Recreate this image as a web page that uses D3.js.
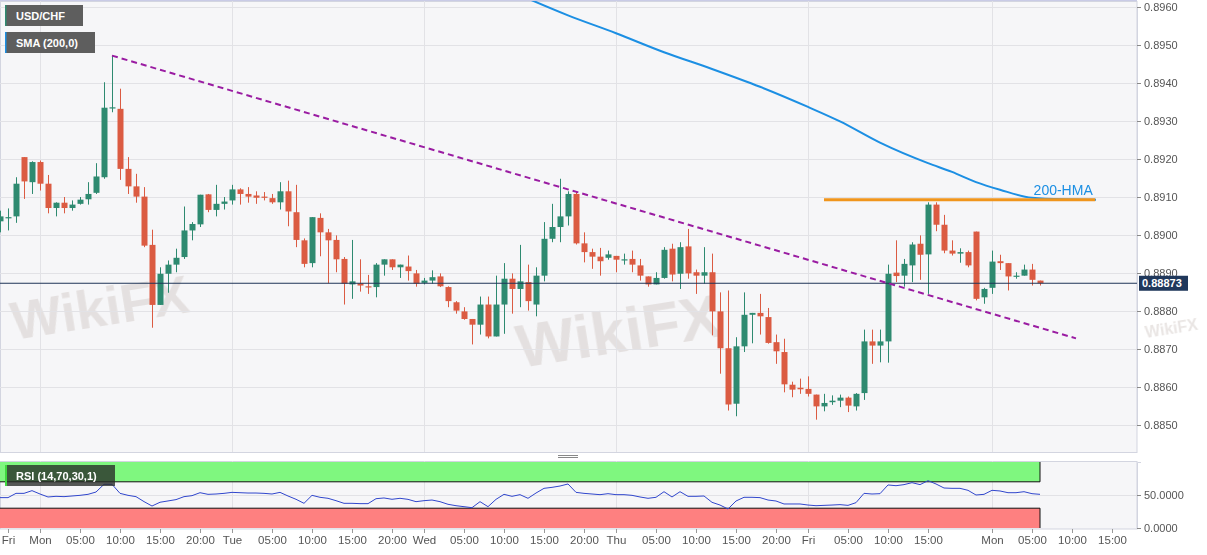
<!DOCTYPE html>
<html><head><meta charset="utf-8">
<script src="https://cdn.jsdelivr.net/npm/d3@7"></script>
<style>
body{margin:0;background:#fff;}
svg{display:block;font-family:"Liberation Sans",Arial,sans-serif;}
</style>
</head><body>
<svg id="c" width="1207" height="555"></svg>
<script>
// ---------- DATA ----------
const firstSlot = -5; // hourly slot of the first candle (Mon 00:00 = slot 0)
const opens = [0.89036,0.89046,0.89049,0.89205,0.89139,0.89192,0.89135,0.89071,0.89085,0.89071,0.89082,0.89094,0.89111,0.89152,0.89334,0.89332,0.89174,0.89128,0.89101,0.88974,0.88816,0.88898,0.88922,0.88942,0.89012,0.89028,0.89107,0.89066,0.89082,0.89091,0.89120,0.89108,0.89104,0.89101,0.89097,0.89086,0.89115,0.89060,0.88986,0.88926,0.89045,0.89007,0.88987,0.88937,0.88870,0.88873,0.88865,0.88863,0.88922,0.88936,0.88915,0.88917,0.88899,0.88874,0.88880,0.88891,0.88863,0.88823,0.88799,0.88779,0.88764,0.88817,0.88733,0.88817,0.88885,0.88858,0.88876,0.88817,0.88893,0.88990,0.89021,0.89049,0.89108,0.88978,0.88955,0.88943,0.88940,0.88945,0.88935,0.88937,0.88920,0.88891,0.88870,0.88887,0.88964,0.88898,0.88970,0.88902,0.88893,0.88902,0.88799,0.88702,0.88556,0.88707,0.88790,0.88795,0.88784,0.88718,0.88692,0.88606,0.88598,0.88595,0.88580,0.88549,0.88560,0.88564,0.88572,0.88549,0.88584,0.88720,0.88709,0.88720,0.88901,0.88893,0.88920,0.88977,0.88949,0.89080,0.89027,0.88959,0.88951,0.88955,0.89009,0.88836,0.88861,0.88931,0.88926,0.88892,0.88893,0.88909,0.88880];
const highs = [0.89064,0.89070,0.89152,0.89205,0.89194,0.89196,0.89158,0.89086,0.89100,0.89091,0.89100,0.89139,0.89189,0.89402,0.89472,0.89385,0.89205,0.89161,0.89126,0.89014,0.88915,0.88933,0.88964,0.89075,0.89034,0.89106,0.89108,0.89132,0.89100,0.89132,0.89123,0.89126,0.89115,0.89113,0.89108,0.89139,0.89143,0.89132,0.88991,0.89047,0.89057,0.89016,0.88999,0.88942,0.88987,0.88936,0.88895,0.88926,0.88936,0.88936,0.88922,0.88946,0.88908,0.88887,0.88907,0.88899,0.88865,0.88826,0.88810,0.88779,0.88838,0.88838,0.88893,0.88926,0.88899,0.88974,0.88922,0.88915,0.89034,0.89082,0.89148,0.89115,0.89115,0.89007,0.88964,0.88966,0.88959,0.88945,0.88951,0.88959,0.88937,0.88891,0.88902,0.88968,0.88977,0.88981,0.89016,0.88909,0.88968,0.88951,0.88849,0.88854,0.88731,0.88849,0.88795,0.88845,0.88808,0.88738,0.88727,0.88614,0.88622,0.88628,0.88580,0.88582,0.88578,0.88580,0.88575,0.88584,0.88751,0.88751,0.88751,0.88922,0.88986,0.88937,0.88981,0.88999,0.89086,0.89086,0.89053,0.88986,0.88965,0.88959,0.89009,0.88861,0.88959,0.88948,0.88926,0.88902,0.88922,0.88924,0.88880];
const lows = [0.89007,0.89012,0.89032,0.89095,0.89108,0.89117,0.89057,0.89049,0.89057,0.89064,0.89080,0.89080,0.89108,0.89148,0.89323,0.89145,0.89108,0.89085,0.88968,0.88756,0.88816,0.88848,0.88902,0.88937,0.88986,0.89021,0.89060,0.89049,0.89067,0.89080,0.89080,0.89085,0.89082,0.89091,0.89082,0.89067,0.89023,0.88968,0.88915,0.88915,0.88944,0.88873,0.88902,0.88817,0.88832,0.88851,0.88845,0.88836,0.88893,0.88908,0.88887,0.88880,0.88864,0.88870,0.88872,0.88863,0.88810,0.88793,0.88777,0.88712,0.88738,0.88728,0.88733,0.88740,0.88793,0.88810,0.88801,0.88786,0.88878,0.88981,0.88981,0.89025,0.88975,0.88928,0.88911,0.88893,0.88935,0.88902,0.88922,0.88902,0.88880,0.88864,0.88870,0.88885,0.88878,0.88858,0.88885,0.88845,0.88872,0.88736,0.88635,0.88538,0.88523,0.88692,0.88715,0.88738,0.88714,0.88661,0.88586,0.88573,0.88582,0.88575,0.88514,0.88536,0.88553,0.88547,0.88534,0.88538,0.88566,0.88661,0.88665,0.88664,0.88876,0.88864,0.88876,0.88882,0.88845,0.89010,0.88952,0.88946,0.88927,0.88915,0.88828,0.88819,0.88845,0.88908,0.88854,0.88885,0.88893,0.88867,0.88867];
const closes = [0.89049,0.89047,0.89135,0.89141,0.89192,0.89135,0.89071,0.89085,0.89071,0.89080,0.89093,0.89108,0.89154,0.89335,0.89336,0.89174,0.89128,0.89101,0.88972,0.88816,0.88898,0.88922,0.88940,0.89012,0.89029,0.89106,0.89066,0.89082,0.89088,0.89120,0.89108,0.89101,0.89098,0.89098,0.89086,0.89115,0.89062,0.88987,0.88924,0.89047,0.89007,0.88986,0.88936,0.88872,0.88878,0.88867,0.88864,0.88922,0.88936,0.88915,0.88922,0.88905,0.88872,0.88880,0.88889,0.88865,0.88826,0.88801,0.88779,0.88764,0.88817,0.88733,0.88817,0.88885,0.88858,0.88878,0.88826,0.88893,0.88990,0.89021,0.89049,0.89108,0.88978,0.88955,0.88943,0.88931,0.88949,0.88935,0.88936,0.88922,0.88893,0.88870,0.88887,0.88961,0.88896,0.88968,0.88899,0.88893,0.88902,0.88799,0.88702,0.88554,0.88707,0.88790,0.88795,0.88786,0.88716,0.88694,0.88607,0.88593,0.88594,0.88582,0.88549,0.88558,0.88564,0.88572,0.88551,0.88582,0.88720,0.88709,0.88720,0.88898,0.88892,0.88924,0.88975,0.88948,0.89080,0.89027,0.88959,0.88951,0.88955,0.88920,0.88832,0.88858,0.88930,0.88926,0.88891,0.88893,0.88909,0.88882,0.88873];
const rsiValues = [46,46,52.5,52.5,56.6,51.5,47,48,47.5,48.5,49.5,51,54.5,66.2,66.2,52.5,49.5,47.5,40,33.3,39,41,43,47.5,49,53.5,51,51.5,52.5,54,53.5,53,53,52.5,51.5,54,48.5,43.5,37.4,49.5,46.5,45,41.4,37.4,37.4,36.9,36.9,44.4,45.5,43.5,45,43.4,39.9,41.4,42.4,39.9,35.9,33.8,32.3,30.8,39.9,32.3,43.4,51,48,50.5,45,53,60.1,61.6,63.6,66.7,54,52.5,51.5,50.5,52,50.5,50.5,49.5,47,45,46.5,55,47,55,48,48,48.5,38.9,34.8,28.8,40.9,46.5,46.5,46,42.4,40.9,36.4,36.4,36.4,34.8,33.8,34.3,34.8,35.4,34.3,38.4,52.5,51.5,52,65.2,64.1,65.7,68.7,65.7,71.7,66.7,60.6,60.1,60.1,57.1,50,51,57.1,56.1,53.5,53.5,55,52,51];
const hmaSlots = [61,66,72,78,84,90,96,100,105,111,114,117,120,124,128,132];
const hmaValues = [0.89622,0.89578,0.89531,0.89481,0.89437,0.89390,0.89337,0.89299,0.89243,0.89189,0.89166,0.89139,0.89119,0.89098,0.89094,0.89093];
const trendSlots = [9,129.5];
const trendValues = [0.89472,0.88728];
const resistanceSlots = [98,131.9];
const resistanceLevel = 0.89093;
const lastPrice = 0.88873;
const priceTicks = [0.8850,0.8860,0.8870,0.8880,0.8890,0.8900,0.8910,0.8920,0.8930,0.8940,0.8950,0.8960];
const rsiTicks = [0,50];
const timeTickSlots = [-4,0,5,10,15,20,24,29,34,39,44,48,53,58,63,68,72,77,82,87,92,96,101,106,111,119,124,129,134];
const timeTickLabels = ["Fri","Mon","05:00","10:00","15:00","20:00","Tue","05:00","10:00","15:00","20:00","Wed","05:00","10:00","15:00","20:00","Thu","05:00","10:00","15:00","20:00","Fri","05:00","10:00","15:00","Mon","05:00","10:00","15:00"];
const dayBreakSlots = [0,24,48,72,96,119];

// ---------- LAYOUT ----------
const svg = d3.select("#c");
const plotRight = 1137;
const main = {top:1, bottom:452};
const low = {top:461, bottom:529};
const x = d3.scaleLinear().domain([-5,137.125]).range([0,plotRight]);
const y = d3.scaleLinear().domain([0.8850,0.8960]).range([425,7]);
const yr = d3.scaleLinear().domain([0,100]).range([528,462]);
const candles = opens.map((o,i)=>({slot:firstSlot+i,o,h:highs[i],l:lows[i],c:closes[i]}));
const lastSlot = candles[candles.length-1].slot;

const defs = svg.append("defs");
defs.append("clipPath").attr("id","clipMain").append("rect").attr("x",0).attr("y",main.top).attr("width",plotRight).attr("height",main.bottom-main.top);
defs.append("clipPath").attr("id","clipLow").append("rect").attr("x",0).attr("y",low.top).attr("width",plotRight).attr("height",low.bottom-low.top);

// panel backgrounds
svg.append("rect").attr("x",0.5).attr("y",main.top+0.5).attr("width",plotRight-0.5).attr("height",main.bottom-main.top)
  .attr("fill","#f6f6f8").attr("stroke","#d3d5e0");
svg.append("rect").attr("x",0.5).attr("y",low.top+0.5).attr("width",plotRight-0.5).attr("height",low.bottom-low.top-0.5)
  .attr("fill","#f6f6f8").attr("stroke","#d3d5e0");
svg.append("line").attr("x1",0).attr("x2",plotRight).attr("y1",0.5).attr("y2",0.5).attr("stroke","#c9cbe6");

// watermarks
const wm = svg.append("g").attr("fill","#cfc6c2").attr("opacity",0.45).attr("font-weight","bold");
wm.append("text").attr("transform","translate(14,340) rotate(-9)").attr("font-size",54).text("WikiFX");
wm.append("text").attr("transform","translate(520,368) rotate(-9)").attr("font-size",62).text("WikiFX");
wm.append("text").attr("transform","translate(1146,338) rotate(-9)").attr("font-size",16).text("WikiFX");

// grids
const gm = svg.append("g").attr("clip-path","url(#clipMain)");
gm.selectAll("line.h").data(priceTicks).join("line")
  .attr("x1",0).attr("x2",plotRight).attr("y1",d=>Math.round(y(d))+0.5).attr("y2",d=>Math.round(y(d))+0.5)
  .attr("stroke","#e2e2e6");
gm.selectAll("line.v").data(dayBreakSlots).join("line")
  .attr("x1",d=>Math.round(x(d))+0.5).attr("x2",d=>Math.round(x(d))+0.5).attr("y1",main.top).attr("y2",main.bottom)
  .attr("stroke","#e2e2e6");

// candles
const cg = gm.append("g");
const up = "#2e8a70", dn = "#db5b42";
cg.selectAll("line.w").data(candles).join("line")
  .attr("x1",d=>Math.round(x(d.slot))+0.5).attr("x2",d=>Math.round(x(d.slot))+0.5)
  .attr("y1",d=>y(d.h)).attr("y2",d=>y(d.l))
  .attr("stroke",d=>d.c>=d.o?up:dn).attr("stroke-width",1);
cg.selectAll("rect").data(candles).join("rect")
  .attr("x",d=>Math.round(x(d.slot))-2.5).attr("width",6)
  .attr("y",d=>y(Math.max(d.o,d.c)))
  .attr("height",d=>Math.max(1.2,Math.abs(y(d.o)-y(d.c))))
  .attr("fill",d=>d.c>=d.o?up:dn);

// last price line
gm.append("line").attr("x1",0).attr("x2",plotRight).attr("y1",y(lastPrice)).attr("y2",y(lastPrice))
  .attr("stroke","#1f3557").attr("stroke-width",1);

// trend line
gm.append("path").datum(trendSlots.map((s,i)=>[s,trendValues[i]]))
  .attr("d",d3.line().x(d=>x(d[0])).y(d=>y(d[1])))
  .attr("fill","none").attr("stroke","#9a1ca2").attr("stroke-width",2).attr("stroke-dasharray","6,4");

// HMA line
gm.append("path").datum(hmaSlots.map((s,i)=>[s,hmaValues[i]]))
  .attr("d",d3.line().curve(d3.curveMonotoneX).x(d=>x(d[0])).y(d=>y(d[1])))
  .attr("fill","none").attr("stroke","#1c8fe3").attr("stroke-width",2);

// resistance
gm.append("line").attr("x1",x(resistanceSlots[0])).attr("x2",x(resistanceSlots[1]))
  .attr("y1",y(resistanceLevel)).attr("y2",y(resistanceLevel))
  .attr("stroke","#f0951c").attr("stroke-width",3);
gm.append("text").attr("x",x(124.2)).attr("y",y(resistanceLevel)-5).attr("fill","#1c8fe3")
  .attr("font-size",14).text("200-HMA");

// right price axis
const ay = svg.append("g").attr("transform",`translate(${plotRight},0)`)
  .call(d3.axisRight(y).tickValues(priceTicks).tickFormat(d3.format(".4f")).tickSize(4).tickPadding(3));
ay.select(".domain").attr("stroke","#d3d5e0");
ay.selectAll(".tick line").attr("stroke","#888");
ay.selectAll(".tick text").attr("fill","#555").attr("font-size",11).attr("font-family","Liberation Sans, Arial, sans-serif");

// price tag
const tagY = y(lastPrice);
svg.append("rect").attr("x",1139).attr("y",tagY-7.5).attr("width",49).attr("height",15).attr("fill","#20385b");
svg.append("text").attr("x",1142).attr("y",tagY+4).attr("fill","#fff").attr("font-size",11).attr("font-weight","bold").text(lastPrice.toFixed(5));

// legends
function legend(yTop,w,stripe,label){
  svg.append("rect").attr("x",5).attr("y",yTop).attr("width",w).attr("height",21).attr("fill","#5e5e5e");
  svg.append("rect").attr("x",5).attr("y",yTop).attr("width",1.5).attr("height",21).attr("fill",stripe);
  svg.append("text").attr("x",16).attr("y",yTop+15).attr("fill","#fff").attr("font-size",11).attr("font-weight","bold").text(label);
}
legend(5,78,"#2e8a70","USD/CHF");
legend(32,90,"#1c8fe3","SMA (200,0)");

// panel separator grip
svg.append("line").attr("x1",558).attr("x2",578).attr("y1",455.5).attr("y2",455.5).attr("stroke","#888");
svg.append("line").attr("x1",558).attr("x2",578).attr("y1",457.5).attr("y2",457.5).attr("stroke","#888");

// ---------- RSI PANEL ----------
const gl = svg.append("g").attr("clip-path","url(#clipLow)");
gl.selectAll("line.v").data(dayBreakSlots).join("line")
  .attr("x1",d=>Math.round(x(d))+0.5).attr("x2",d=>Math.round(x(d))+0.5).attr("y1",low.top).attr("y2",low.bottom)
  .attr("stroke","#e2e2e6");
gl.append("line").attr("x1",0).attr("x2",plotRight).attr("y1",Math.round(yr(50))+0.5).attr("y2",Math.round(yr(50))+0.5).attr("stroke","#e2e2e6");
const bandEnd = x(lastSlot);
gl.append("rect").attr("x",0).attr("y",yr(100)).attr("width",bandEnd).attr("height",yr(70)-yr(100)).attr("fill","#7ff77f");
gl.append("rect").attr("x",0).attr("y",yr(30)).attr("width",bandEnd).attr("height",yr(0)-yr(30)).attr("fill","#fe8080");
gl.append("path").attr("d",`M0,${yr(70)}H${bandEnd}V${yr(100)}M0,${yr(30)}H${bandEnd}V${yr(0)}`)
  .attr("fill","none").attr("stroke","#111").attr("stroke-width",1);
gl.append("path").datum(rsiValues.map((v,i)=>[firstSlot+i,v]))
  .attr("d",d3.line().x(d=>x(d[0])).y(d=>yr(d[1])))
  .attr("fill","none").attr("stroke","#3046cc").attr("stroke-width",1);

// RSI label
svg.append("rect").attr("x",5).attr("y",465).attr("width",110).attr("height",21).attr("fill","rgba(38,42,38,0.78)");
svg.append("rect").attr("x",5).attr("y",465).attr("width",2).attr("height",21).attr("fill","#3fd83f");
svg.append("text").attr("x",16).attr("y",480).attr("fill","#fff").attr("font-size",11).attr("font-weight","bold").text("RSI (14,70,30,1)");

// RSI axis
const ar = svg.append("g").attr("transform",`translate(${plotRight},0)`)
  .call(d3.axisRight(yr).tickValues(rsiTicks).tickFormat(d3.format(".4f")).tickSize(4).tickPadding(3));
ar.select(".domain").attr("stroke","#d3d5e0");
ar.selectAll(".tick line").attr("stroke","#888");
ar.selectAll(".tick text").attr("fill","#555").attr("font-size",11).attr("font-family","Liberation Sans, Arial, sans-serif");

// time axis
const ax = svg.append("g").attr("transform",`translate(0,${low.bottom})`)
  .call(d3.axisBottom(x).tickValues(timeTickSlots).tickFormat((d,i)=>timeTickLabels[i]).tickSize(4).tickPadding(3));
ax.select(".domain").remove();
ax.selectAll(".tick line").attr("stroke","#999");
ax.selectAll(".tick text").attr("fill","#555").attr("font-size",11.5).attr("font-family","Liberation Sans, Arial, sans-serif");
</script>
</body></html>
